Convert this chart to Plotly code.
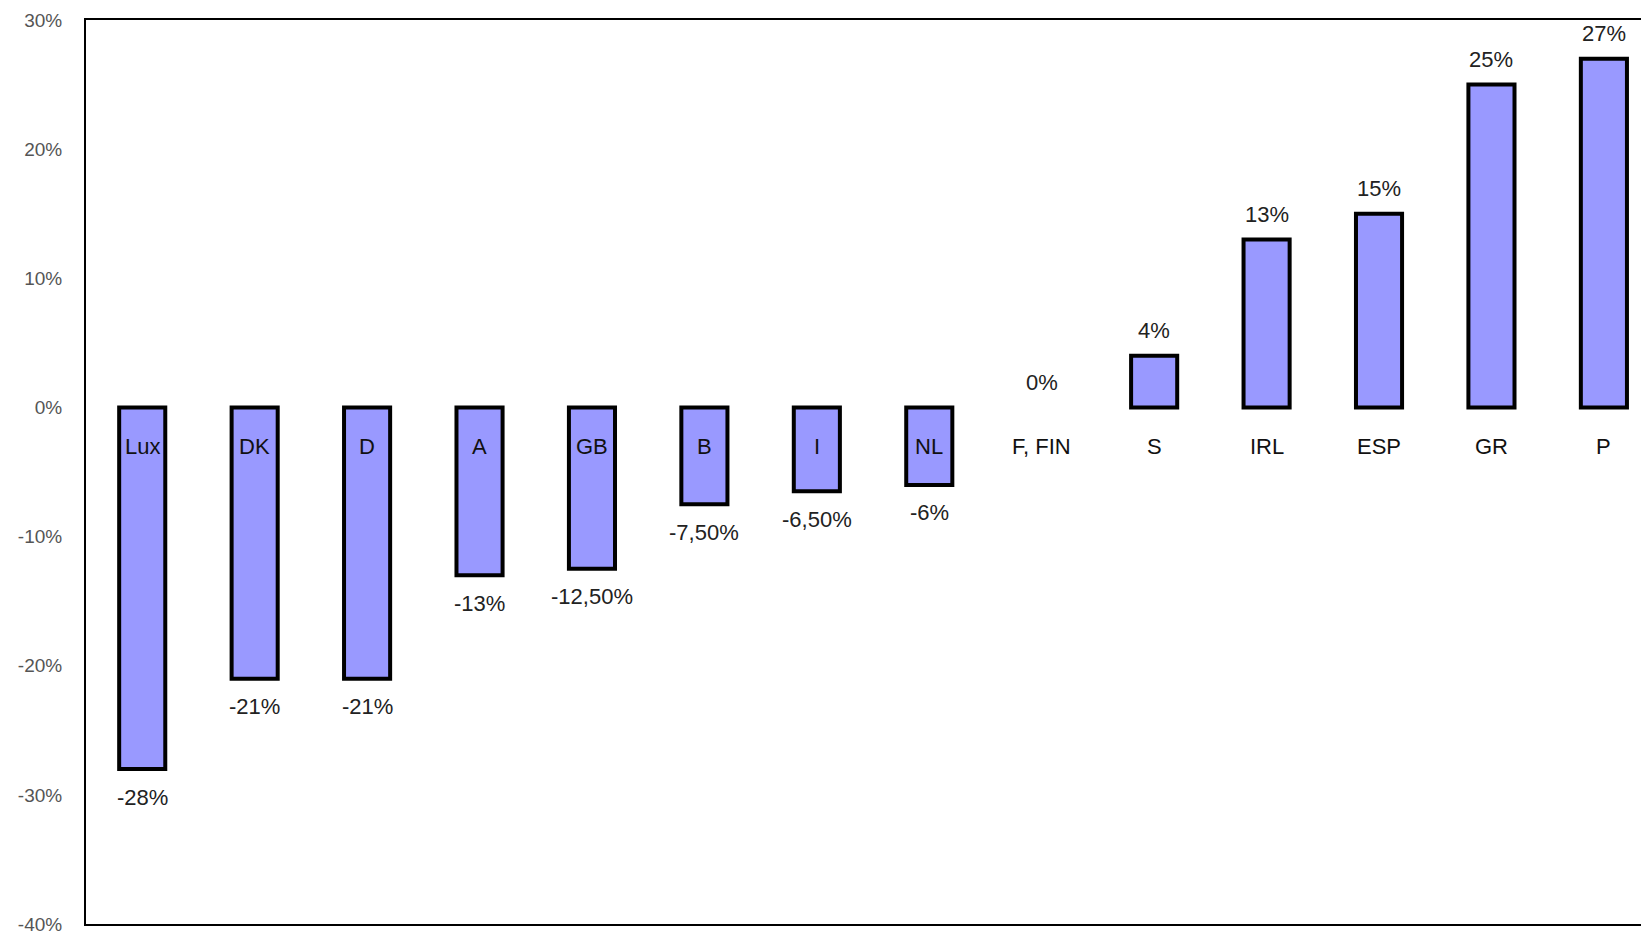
import plotly.graph_objects as go

categories = ["Lux", "DK", "D", "A", "GB", "B", "I", "NL", "F, FIN", "S", "IRL", "ESP", "GR", "P"]
values = [-28, -21, -21, -13, -12.5, -7.5, -6.5, -6, 0, 4, 13, 15, 25, 27]
value_labels = ["-28%", "-21%", "-21%", "-13%", "-12,50%", "-7,50%", "-6,50%", "-6%",
                "0%", "4%", "13%", "15%", "25%", "27%"]
y_ticks = [-40, -30, -20, -10, 0, 10, 20, 30]
y_tick_labels = ["-40%", "-30%", "-20%", "-10%", "0%", "10%", "20%", "30%"]

x = list(range(len(categories)))
line_widths = [0 if v == 0 else 4 for v in values]

fig = go.Figure()
fig.add_trace(go.Bar(
    x=x, y=values, width=0.41,
    marker=dict(color="#9999FF", line=dict(color="black", width=line_widths)),
    hoverinfo="skip",
))

annotations = []
for i, (c, v, lab) in enumerate(zip(categories, values, value_labels)):
    annotations.append(dict(
        x=i, y=-3, xref="x", yref="y", text=c, showarrow=False,
        font=dict(family="Liberation Sans, Arial", size=22, color="#111"),
        xanchor="center", yanchor="middle",
    ))
    annotations.append(dict(
        x=i, y=v, xref="x", yref="y", text=lab, showarrow=False,
        font=dict(family="Liberation Sans, Arial", size=22, color="#222"),
        xanchor="center", yanchor="middle",
        yshift=(-28 if v < 0 else 25),
    ))

fig.update_layout(
    width=1641, height=934,
    margin=dict(l=86, r=0, t=20, b=10),
    paper_bgcolor="white", plot_bgcolor="white",
    showlegend=False,
    annotations=annotations,
    xaxis=dict(range=[-0.5, 13.33], showticklabels=False, showgrid=False,
               zeroline=False, showline=True, linecolor="black", linewidth=2,
               mirror=True, ticks=""),
    yaxis=dict(range=[-40, 30], tickvals=y_ticks, ticktext=y_tick_labels,
               showgrid=False, zeroline=False, showline=True, linecolor="black",
               linewidth=2, mirror=False, ticks="outside", ticklen=18,
               tickcolor="white", ticklabeloverflow="allow",
               tickfont=dict(family="Liberation Sans, Arial", size=19, color="#555")),
)

fig.write_html("out.html")
